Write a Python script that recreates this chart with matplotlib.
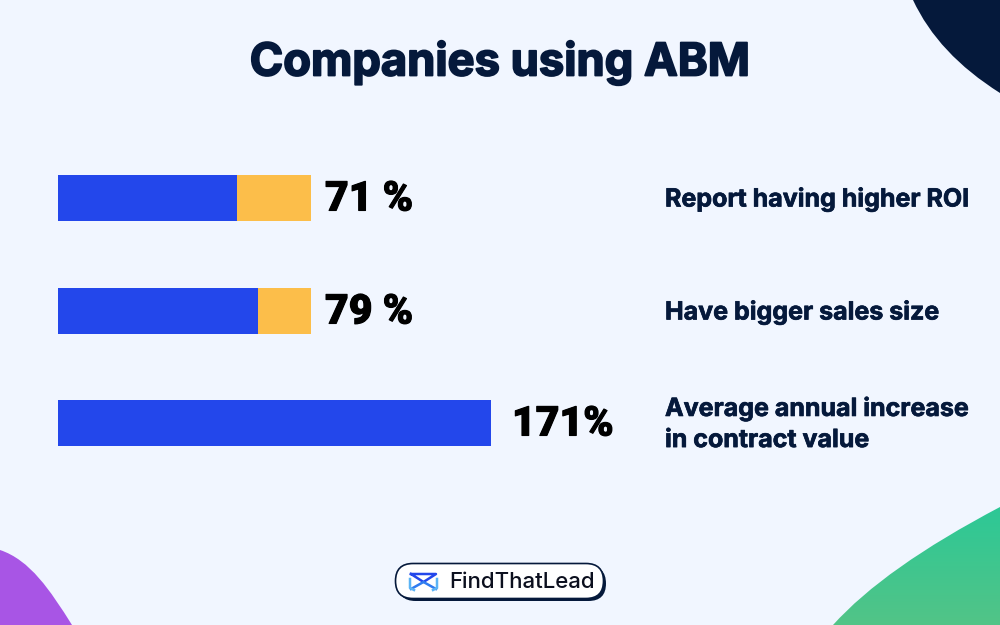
import numpy as np
import matplotlib.pyplot as plt
import matplotlib.patheffects as pe
from matplotlib.patches import PathPatch, FancyBboxPatch
from matplotlib.path import Path
from matplotlib.colors import LinearSegmentedColormap

title = 'Companies using ABM'
values = [71, 79, 171]
value_labels = ['71 %', '79 %', '171%']
captions = ['Report having higher ROI', 'Have bigger sales size',
            'Average annual increase\nin contract value']

bg = '#F1F6FF'
blue = '#2347EB'
yellow = '#FCBE4A'
navy = '#05193B'

W, H = 1000, 625
dpi = 100
fig = plt.figure(dpi=dpi, figsize=(W / dpi, H / dpi), facecolor=bg)

# full size axes in pixel coordinates for the decoration and the texts
deco = fig.add_axes([0, 0, 1, 1])
deco.set_axis_off()


def blob(verts, codes, **kw):
    p = PathPatch(Path(verts, codes), lw=0, **kw)
    deco.add_patch(p)
    return p


def heavy(width, color):
    return [pe.withStroke(linewidth=width, foreground=color)]


C3, C4, M, L, Z = Path.CURVE3, Path.CURVE4, Path.MOVETO, Path.LINETO, Path.CLOSEPOLY

blob([(913, 0), (938, 54), (1000, 93), (1000, 0), (913, 0)], [M, C3, C3, L, Z], fc=navy)
blob([(0, 550), (30, 560), (50, 590), (72, 625), (0, 625), (0, 550)],
     [M, C4, C4, C4, L, Z], fc='#A855E5')

green = blob([(833, 625), (884, 568), (1000, 507), (1000, 625), (833, 625)],
             [M, C3, C3, L, Z], fc='none')
cmap = LinearSegmentedColormap.from_list('g', ['#2DC896', '#52C487'])
im = deco.imshow(np.linspace(0, 1, 100).reshape(-1, 1), cmap=cmap, aspect='auto',
                 extent=(833, 1000, 625, 507))
im.set_clip_path(green)
deco.set_xlim(0, W)
deco.set_ylim(H, 0)

deco.text(500, 62.5, title, ha='center', va='center', fontsize=32.6,
          fontweight='bold', family='Inter', color=navy,
          path_effects=heavy(1.3, navy))

# bars, 2.535 px per percent
bars = fig.add_axes([57.5 / W, 1 - 479.25 / H, 171 * 2.535 / W, 337.5 / H])
bars.patch.set_alpha(0)
bars.set_axis_off()
ypos = np.arange(len(values))
rest = [max(100 - v, 0) for v in values]
bars.barh(ypos, values, height=46 / 112.5, color=blue)
bars.barh(ypos, rest, left=values, height=46 / 112.5, color=yellow)
bars.set_xlim(0, 171)
bars.set_ylim(2.5, -0.5)

label_x = [325, 325, 512]
centres = [198, 311, 423]
for x, y, s in zip(label_x, centres, value_labels):
    deco.text(x, y + 1, s, ha='left', va='center', fontsize=29.5, fontweight='black',
              family='Roboto', color='black', path_effects=heavy(0.8, 'black'))
for y, s in zip(centres, captions):
    deco.text(665, y + 1, s, ha='left', va='center', fontsize=18, fontweight='bold',
              family='Inter', color=navy, linespacing=1.45,
              path_effects=heavy(0.5, navy))

# logo
deco.add_patch(FancyBboxPatch((398, 566), 208, 35, boxstyle='round,pad=0,rounding_size=17.5',
                              fc=navy, ec='none'))
deco.add_patch(FancyBboxPatch((395.5, 563.5), 208, 35, boxstyle='round,pad=0,rounding_size=17.5',
                              fc='white', ec=navy, lw=1.2))
deco.plot([411, 436, 423.5, 411], [574, 574, 582, 574], color='#2347EB', lw=1.8, solid_joinstyle='round')
deco.plot([411, 423.5, 436], [589, 582, 589], color='#2F7CF0', lw=1.8)
deco.plot([410, 410, 414], [579, 588, 590], color='#5BB4F5', lw=1.8)
deco.plot([437, 437, 433], [579, 588, 590], color='#5BB4F5', lw=1.8)
deco.text(449, 582, 'FindThatLead', ha='left', va='center', fontsize=16,
          fontweight='medium', family='Inter', color='#0B0F1E')

fig.savefig('out.png', dpi=dpi, facecolor=bg)
